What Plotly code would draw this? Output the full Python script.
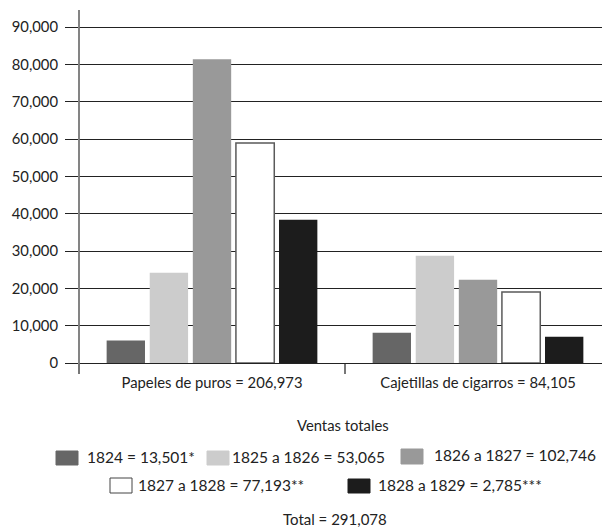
import plotly.graph_objects as go

categories = ["Papeles de puros = 206,973", "Cajetillas de cigarros = 84,105"]
series_names = ["1824 = 13,501*", "1825 a 1826 = 53,065", "1826 a 1827 = 102,746",
                "1827 a 1828 = 77,193**", "1828 a 1829 = 2,785***"]
v1824 = [6000, 8100]
v1825 = [24200, 28700]
v1826 = [81400, 22300]
v1827 = [58900, 19000]
v1828 = [38400, 7000]
y_ticks = [0, 10000, 20000, 30000, 40000, 50000, 60000, 70000, 80000, 90000]
axis_title = "Ventas totales"
total_label = "Total = 291,078"

values = [v1824, v1825, v1826, v1827, v1828]
fills = ["#666666", "#cccccc", "#999999", "#ffffff", "#1c1c1c"]
outlines = ["#666666", "#cccccc", "#999999", "#5a5a5a", "#1c1c1c"]
outline_w = [0, 0, 0, 1.5, 0]

FONT = "Lato"
FS = 14.8
TXT = "#222222"

fig = go.Figure()
for name, vals, fc, lc, lw in zip(series_names, values, fills, outlines, outline_w):
    fig.add_trace(go.Bar(
        x=categories, y=vals, name=name, showlegend=False,
        marker=dict(color=fc, line=dict(color=lc, width=lw)),
    ))

# page offset (body margin) is 8px; layout numbers below are in page pixels
OFF = 8
W, H = 610, 527
L, T, R = 71, 2, 7
PLOT_BOTTOM = 355
B = H - PLOT_BOTTOM
pw = W - L - R
ph = PLOT_BOTTOM - T


def px_x(px):
    return (px - OFF - L) / pw


def px_y(py):
    return (PLOT_BOTTOM - (py - OFF)) / ph


# legend key layout (page pixels): (x0, x1, y0, y1, text_x, text_y)
key_boxes = [
    (56, 78, 451, 465, 85, 457),
    (207, 229, 451, 465, 230, 457),
    (401, 423, 449, 464, 432, 455),
    (110, 132, 478, 493, 136, 485),
    (348, 370, 479, 493, 376, 485),
]
key_line = ["#666666", "#cccccc", "#999999", "#444444", "#1c1c1c"]

shapes = [
    dict(type="line", xref="paper", yref="paper", x0=0, x1=0, y0=px_y(369), y1=1,
         line=dict(color="#777777", width=1.8)),
]
annotations = [
    dict(text=axis_title, x=px_x(342.5), y=px_y(425), xref="paper", yref="paper",
         showarrow=False, xanchor="center", yanchor="middle",
         font=dict(family=FONT, size=FS, color=TXT)),
    dict(text=total_label, x=px_x(335), y=px_y(519), xref="paper", yref="paper",
         showarrow=False, xanchor="center", yanchor="middle",
         font=dict(family=FONT, size=15, color=TXT)),
]
for (x0, x1, y0, y1, tx, ty), name, fc, lc in zip(key_boxes, series_names, fills, key_line):
    shapes.append(dict(type="rect", xref="paper", yref="paper",
                       x0=px_x(x0), x1=px_x(x1), y0=px_y(y1), y1=px_y(y0),
                       fillcolor=fc, line=dict(color=lc, width=1)))
    annotations.append(dict(text=name, x=px_x(tx), y=px_y(ty), xref="paper", yref="paper",
                            showarrow=False, xanchor="left", yanchor="middle",
                            font=dict(family=FONT, size=15.5, color=TXT)))

fig.update_layout(
    width=W, height=H,
    margin=dict(l=L, r=R, t=T, b=B, autoexpand=False),
    paper_bgcolor="white", plot_bgcolor="white",
    font=dict(family=FONT, size=FS, color=TXT),
    barmode="group", bargap=0.19, bargroupgap=0.11,
    showlegend=False,
    xaxis=dict(type="category", tickson="boundaries", ticks="outside", ticklen=10,
               tickcolor="#777777", tickwidth=1.5, showline=False, showgrid=False,
               ticklabelstandoff=9,
               tickfont=dict(family=FONT, size=FS, color=TXT)),
    yaxis=dict(range=[0, 94560], tickvals=y_ticks, tickformat=",", ticks="outside",
               ticklen=13, tickcolor="#222222", tickwidth=1.2, showgrid=True,
               gridcolor="#222222", gridwidth=1.2, zeroline=True, zerolinecolor="#222222",
               zerolinewidth=1.2, showline=False, ticklabelstandoff=4,
               tickfont=dict(family=FONT, size=FS, color=TXT)),
    annotations=annotations,
    shapes=shapes,
)

fig.write_html("out.html")
